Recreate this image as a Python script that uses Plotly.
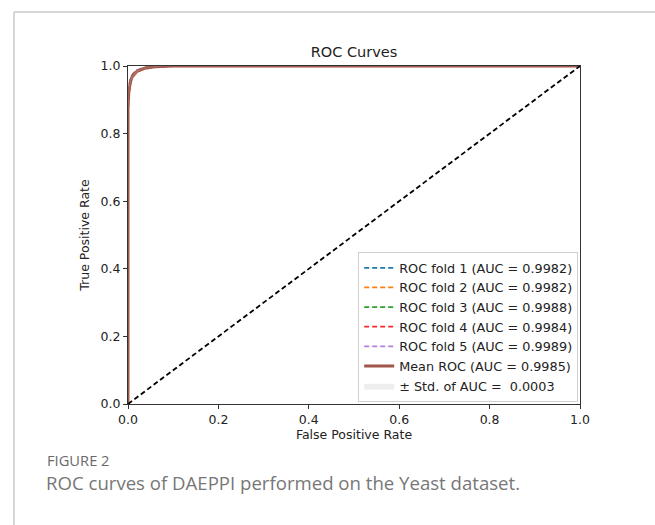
import numpy as np
import plotly.graph_objects as go

# False positive rate grid shared by all folds
fpr = [0.0, 0.0, 0.002, 0.004, 0.006, 0.008, 0.010, 0.015, 0.020, 0.030, 0.040, 0.060, 0.080, 0.100, 1.0]

# True positive rates per cross-validation fold
tpr_fold1 = [0.0, 0.870, 0.920, 0.942, 0.953, 0.961, 0.967, 0.976, 0.982, 0.989, 0.993, 0.997, 0.999, 1.0, 1.0]
tpr_fold2 = [0.0, 0.860, 0.915, 0.938, 0.950, 0.958, 0.965, 0.974, 0.980, 0.988, 0.993, 0.997, 1.0, 1.0, 1.0]
tpr_fold3 = [0.0, 0.890, 0.935, 0.952, 0.962, 0.969, 0.974, 0.982, 0.987, 0.992, 0.996, 0.999, 1.0, 1.0, 1.0]
tpr_fold4 = [0.0, 0.875, 0.925, 0.945, 0.956, 0.963, 0.969, 0.978, 0.984, 0.990, 0.994, 0.998, 1.0, 1.0, 1.0]
tpr_fold5 = [0.0, 0.895, 0.940, 0.956, 0.965, 0.971, 0.976, 0.984, 0.988, 0.993, 0.996, 0.999, 1.0, 1.0, 1.0]

fold_aucs = [0.9982, 0.9982, 0.9988, 0.9984, 0.9989]
mean_auc = 0.9985
std_auc = 0.0003

fold_colors = ["#1f77b4", "#ff7f0e", "#2ca02c", "#ff2a2a", "#b27ee0"]
folds = [tpr_fold1, tpr_fold2, tpr_fold3, tpr_fold4, tpr_fold5]

fig = go.Figure()

for i, (tpr, auc, col) in enumerate(zip(folds, fold_aucs, fold_colors)):
    fig.add_trace(go.Scatter(
        x=fpr, y=tpr, mode="lines",
        line=dict(color=col, width=1.8, dash="5px,3px"),
        name=f"ROC fold {i + 1} (AUC = {auc:.4f})",
    ))

tpr_arr = np.array(folds)
mean_tpr = tpr_arr.mean(axis=0)
mean_tpr[0] = 0.0
mean_tpr[-1] = 1.0
std_tpr = tpr_arr.std(axis=0)
upper = np.minimum(mean_tpr + std_tpr, 1.0)
lower = np.maximum(mean_tpr - std_tpr, 0.0)

fig.add_trace(go.Scatter(
    x=fpr, y=mean_tpr, mode="lines",
    line=dict(color="#a0574a", width=3),
    name=f"Mean ROC (AUC = {mean_auc:.4f})",
))
fig.add_trace(go.Scatter(
    x=fpr, y=upper, mode="lines", line=dict(width=0, color="rgba(0,0,0,0)"),
    showlegend=False, hoverinfo="skip",
))
fig.add_trace(go.Scatter(
    x=fpr, y=lower, mode="lines", line=dict(width=0, color="rgba(0,0,0,0)"),
    fill="tonexty", fillcolor="rgba(200,200,200,0.3)",
    name=f"\u00b1 Std. of AUC =  {std_auc:.4f}",
))

# Chance diagonal
fig.add_trace(go.Scatter(
    x=[0, 1], y=[0, 1], mode="lines",
    line=dict(color="black", width=1.8, dash="5px,3px"),
    showlegend=False,
))

axis_font = dict(family="DejaVu Sans", size=12.5, color="#222")
common_axis = dict(
    range=[0, 1], showline=True, linecolor="#333", linewidth=1.2, mirror=True,
    ticks="outside", ticklen=4, tickcolor="#333", tickformat=".1f",
    showgrid=False, zeroline=False, tickfont=axis_font,
    tickvals=[0, 0.2, 0.4, 0.6, 0.8, 1.0],
)

fig.update_layout(
    width=655, height=525,
    margin=dict(l=128, r=75, t=66, b=121),
    plot_bgcolor="white", paper_bgcolor="white",
    font=dict(family="DejaVu Sans", color="#222"),
    title=dict(text="ROC Curves", x=(128 + 580) / 2 / 655, xanchor="center",
               y=1 - 52 / 525, yanchor="middle",
               font=dict(family="DejaVu Sans", size=14.5, color="#222")),
    xaxis=dict(common_axis, title=dict(text="False Positive Rate", font=axis_font, standoff=4)),
    yaxis=dict(common_axis, title=dict(text="True Positive Rate", font=axis_font, standoff=8)),
    legend=dict(
        x=0.996, xanchor="right", y=0.006, yanchor="bottom",
        bgcolor="white", bordercolor="#d0d0d0", borderwidth=1,
        font=dict(family="DejaVu Sans", size=12.8, color="#222"),
        tracegroupgap=0, itemwidth=30, traceorder="normal",
    ),
    showlegend=True,
)

# Page frame around the figure
fig.add_shape(type="line", xref="paper", yref="paper",
              x0=-114 / 452, x1=-114 / 452, y0=(404 - 525) / 338, y1=(404 - 12) / 338,
              line=dict(color="#c8c8c8", width=1.5))
fig.add_shape(type="line", xref="paper", yref="paper",
              x0=-114 / 452, x1=(655 - 128) / 452, y0=(404 - 12) / 338, y1=(404 - 12) / 338,
              line=dict(color="#c8c8c8", width=1.5))

# Caption
fig.add_annotation(text="FIGURE 2", xref="paper", yref="paper",
                   x=(45 - 128) / 452, y=(404 - 460) / 338, xanchor="left", yanchor="middle",
                   showarrow=False, font=dict(family="Open Sans", size=14.7, color="#6a6a6a"))
fig.add_annotation(text="ROC curves of DAEPPI performed on the Yeast dataset.",
                   xref="paper", yref="paper",
                   x=(44 - 128) / 452, y=(404 - 482) / 338, xanchor="left", yanchor="middle",
                   showarrow=False, font=dict(family="Open Sans", size=18.6, color="#777777"))

fig.write_html("out.html")
